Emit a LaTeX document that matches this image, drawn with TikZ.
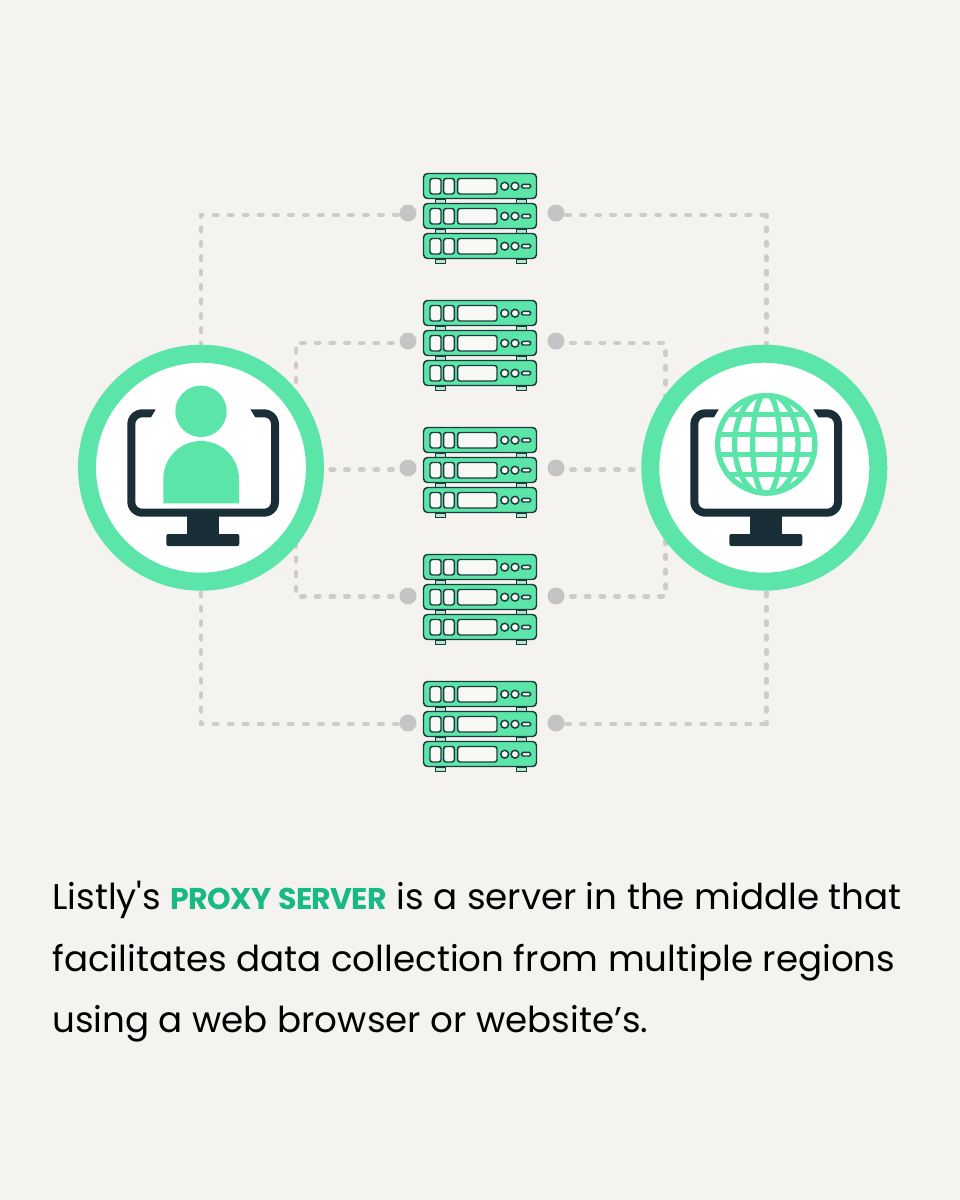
\documentclass[tikz,border=0pt]{standalone}
\usepackage{fontspec}
\setmainfont{Poppins}[Ligatures=TeXOff]
\definecolor{bgc}{HTML}{F4F3EF}
\definecolor{mint}{HTML}{5CE5A9}
\definecolor{footc}{HTML}{B5E9CF}
\definecolor{slotc}{HTML}{F8F8F5}
\definecolor{navy}{HTML}{1A2E38}
\definecolor{edgec}{HTML}{1E3B3E}
\definecolor{dotc}{HTML}{C5C4C4}
\definecolor{linkc}{HTML}{CDCCCA}
\definecolor{hilite}{HTML}{19B986}
\pgfdeclarelayer{under}
\pgfsetlayers{under,main}
\tikzset{
  x=0.75pt,y=-0.75pt,
  hub/.style={circle,draw=mint,fill=white,line width=13.5pt,minimum size=171pt,inner sep=0pt},
  portdot/.style={circle,fill=dotc,minimum size=12.75pt,inner sep=0pt},
  link/.style={draw=linkc,line width=3.3pt,line cap=round},
  linkouter/.style={link,dash pattern=on 2.7pt off 8.57pt,dash phase=3.6pt},
  linkdrop/.style={link,dash pattern=on 2.7pt off 8.1pt,dash phase=1.35pt},
  linkinner/.style={link,dash pattern=on 2.7pt off 8.3pt,dash phase=10.6pt},
  unitbody/.style={fill=mint,draw=edgec,line width=1.1pt,rounded corners=3pt},
  slot/.style={fill=slotc,draw=edgec,line width=1.1pt,rounded corners=1.8pt},
  para/.style={anchor=base west,inner sep=0pt,font=\fontsize{26.75}{30}\selectfont,text=black},
  unit/.pic={
    \path[unitbody] (0.5,0.5) rectangle (113.5,25.5);
    \path[slot] (7,5.5) rectangle (18,21);
    \path[slot] (20.7,5.5) rectangle (31.3,21);
    \path[slot] (34.7,5.5) rectangle (74,21);
    \path[slot] (81.7,13.2) circle[radius=3.9];
    \path[slot] (92,13.2) circle[radius=3.9];
    \path[slot,rounded corners=1pt] (98.7,11.4) rectangle (107.7,15);
  },
  rack/.pic={
    \foreach \fx in {12.3,93.3}{
      \foreach \fy in {26,56,86}{
        \path[fill=footc,draw=edgec,line width=.6pt] (\fx,\fy) rectangle ++(10,4);
      }
    }
    \pic at (0,0) {unit};
    \pic at (0,30) {unit};
    \pic at (0,60) {unit};
  },
  monitor/.pic={
    \fill[navy] (28.4,0) -- (15,0) .. controls (6.7,0) and (0,6.7) .. (0,15) -- (0,92.4)
      .. controls (0,100.7) and (6.7,107.4) .. (15,107.4) -- (136.7,107.4)
      .. controls (145,107.4) and (151.7,100.7) .. (151.7,92.4) -- (151.7,15)
      .. controls (151.7,6.7) and (145,0) .. (136.7,0) -- (123,0) -- (128,8) -- (136.7,8)
      .. controls (141,8) and (143.7,11) .. (143.7,15) -- (143.7,92.4)
      .. controls (143.7,96.5) and (140.5,99.4) .. (136.7,99.4) -- (15,99.4)
      .. controls (11,99.4) and (8,96.5) .. (8,92.4) -- (8,15)
      .. controls (8,11) and (11,8) .. (15,8) -- (23.7,8) -- cycle;
    \fill[navy] (60,107) rectangle (91.4,125);
    \fill[navy,rounded corners=1.5pt] (39,136.7) rectangle (112,124.7);
  }
}
\begin{document}
\begin{tikzpicture}
\useasboundingbox (0,0) rectangle (960,1200);
\begin{pgfonlayer}{under}
\fill[bgc] (0,0) rectangle (960,1200);
\end{pgfonlayer}

% hubs
\node[hub] (user) at (201,467.7) {};
\node[hub] (web) at (764.3,467.7) {};

% racks
\foreach \ry in {173,300,427,554,681}{ \pic at (423,\ry) {rack}; }

% ports
\foreach \n/\py in {a/213,b/341,c/468,d/596,e/723}{
  \node[portdot] (l\n) at (408,\py) {};
  \node[portdot] (r\n) at (556,\py) {};
}

% bend points
\coordinate (ib1) at (296,343);
\coordinate (ib2) at (296,596.5);
\coordinate (ib3) at (665.5,343);
\coordinate (ib4) at (665.5,596.5);
\coordinate (ob1) at (201,215);
\coordinate (ob2) at (201,724);
\coordinate (ob3) at (766.5,215);
\coordinate (ob4) at (766.5,724);
\coordinate (mb1) at (322,469.5);
\coordinate (mb2) at (642,469.5);

\begin{pgfonlayer}{under}
  \path[linkouter] (la |- ob1) -- (ob1);
  \path[linkdrop] (ob1) -- (ob1 |- user);
  \path[linkouter] (le |- ob2) -- (ob2);
  \path[linkdrop] (ob2) -- (ob2 |- user);
  \path[linkouter] (ra |- ob3) -- (ob3);
  \path[linkdrop] (ob3) -- (ob3 |- web);
  \path[linkouter] (re |- ob4) -- (ob4);
  \path[linkdrop] (ob4) -- (ob4 |- web);
  \path[linkinner] (lb |- ib1) -- (ib1) -- (ib1 |- user);
  \path[linkinner] (ld |- ib2) -- (ib2) -- (ib2 |- user);
  \path[linkinner] (rb |- ib3) -- (ib3) -- (ib3 |- web);
  \path[linkinner] (rd |- ib4) -- (ib4) -- (ib4 |- web);
  \path[linkinner] (lc |- mb1) -- (mb1);
  \path[linkinner] (rc |- mb2) -- (mb2);
\end{pgfonlayer}

% user icon
\pic at (127.3,409.3) {monitor};
\fill[mint] (201,411.3) circle[radius=25.7];
\fill[mint] (163.3,503.3) -- (163.3,479) .. controls (163.3,458) and (180,441) .. (201,441)
  .. controls (222,441) and (239,458) .. (239,479) -- (239,503.3) -- cycle;

% web icon
\pic at (690.3,409.3) {monitor};
\fill[white] (766.3,444.3) circle[radius=51.3];
\begin{scope}
  \clip (766.3,444.3) circle[radius=51.3];
  \foreach \dy in {-30,-10,10,30}{
    \draw[mint,line width=4pt] (700,444.3+\dy) -- (830,444.3+\dy);
  }
  \draw[mint,line width=4pt] (766.3,444.3) ellipse[x radius=13.7,y radius=51];
  \draw[mint,line width=4pt] (766.3,444.3) ellipse[x radius=31.7,y radius=51];
\end{scope}
\draw[mint,line width=4pt] (766.3,444.3) circle[radius=48.65];

% caption
\node[para] (t1) at (52,909) {Listly's \textcolor{hilite}{\bfseries\fontsize{22.5}{30}\selectfont\addfontfeature{LetterSpace=-2.4}PROXY\hspace{5.5pt}SERVER} is a server in the middle that};
\node[para] (t2) at (52,971) {facilitates data collection from multiple regions};
\node[para] (t3) at (52,1032) {using a web browser or website’s.};
\end{tikzpicture}
\end{document}
